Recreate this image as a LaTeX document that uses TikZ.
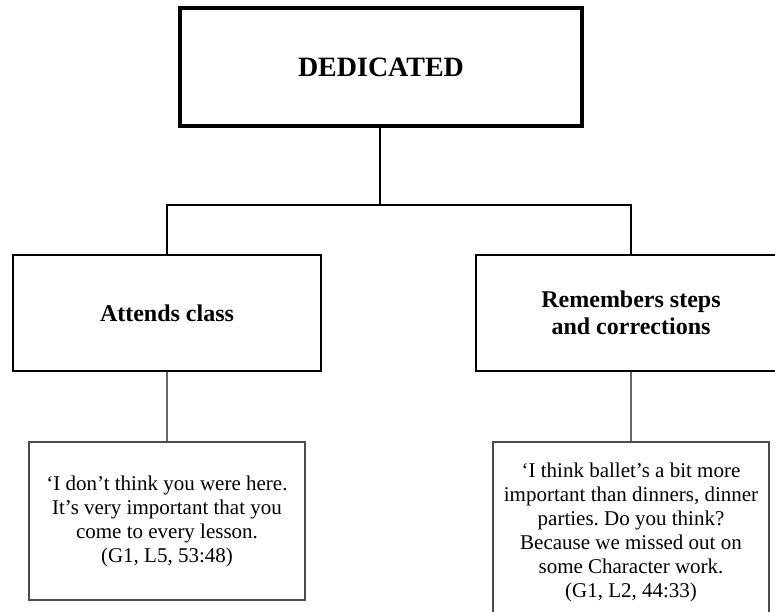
\documentclass[tikz,border=0pt]{standalone}
\usepackage{fontspec}
\setmainfont{Liberation Serif}
\frenchspacing
\begin{document}
\begin{tikzpicture}[x=1pt,y=-1pt,
  topbox/.style={draw=black,line width=4pt,minimum width=402pt,minimum height=118pt,
    inner sep=0pt,font=\fontsize{28}{32}\selectfont\bfseries},
  midbox/.style={draw=black,line width=2pt,minimum width=308pt,minimum height=116pt,
    inner sep=0pt,align=center,font=\fontsize{24}{27}\selectfont\bfseries},
  quotebox/.style={draw=black!70,line width=1.5pt,minimum width=276pt,
    inner sep=0pt,align=center,font=\fontsize{21}{24}\selectfont},
  link/.style={draw=black,line width=2pt},
  thinlink/.style={draw=black!60,line width=1.5pt}]
\useasboundingbox (0,0) rectangle (775,611);
\clip (0,0) rectangle (775,611);

\node[topbox] (dedicated) at (381,67) {DEDICATED};

\node[midbox] (attends) at (167,313) {Attends class};
\node[midbox,minimum width=310pt] (remembers) at (631,313) {Remembers steps\\and corrections};

\node[quotebox,minimum height=158pt] (q1) at (167,521)
  {‘I don’t think you were here.\\It’s very important that you\\come to every lesson.\\(G1, L5, 53:48)};
\node[quotebox,minimum height=180pt] (q2) at (631,532)
  {‘I think ballet’s a bit more\\important than dinners, dinner\\parties. Do you think?\\Because we missed out on\\some Character work.\\(G1, L2, 44:33)};

% tree connectors
\coordinate (bar) at (380,205);
\draw[link] (dedicated.south -| bar) -- (bar);
\draw[link] (attends.north) |- (bar) -| (remembers.north);
\draw[thinlink] (attends.south) -- (q1.north);
\draw[thinlink] (remembers.south) -- (q2.north);
\end{tikzpicture}
\end{document}
